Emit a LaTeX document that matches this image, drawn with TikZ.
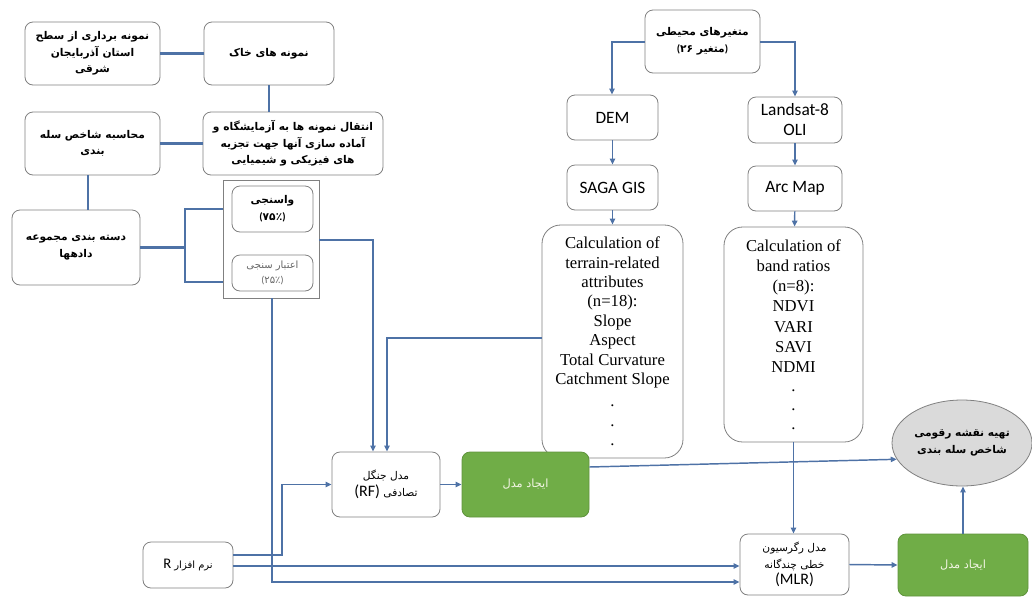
\documentclass[tikz,border=0pt]{standalone}
\usepackage{fontspec}
\setmainfont{Liberation Serif}
\newfontfamily\fa[Script=Arabic]{DejaVu Sans}
\newfontfamily\cbr{Carlito}
\TeXXeTstate=1
\usetikzlibrary{arrows.meta,shapes.geometric}
\newcommand\RL[1]{\beginR #1\endR}
\definecolor{lineblue}{HTML}{4E72A6}
\definecolor{boxgray}{HTML}{808080}
\definecolor{mgreen}{HTML}{70AD47}
\definecolor{ellgray}{HTML}{DADADA}
\definecolor{gtext}{HTML}{F4F6E6}
\tikzset{
  box/.style={draw=boxgray, line width=0.6pt, rounded corners=6pt, fill=white,
    align=center, inner sep=1pt, font=\fa\bfseries\fontsize{8}{12.5}\selectfont},
  plainbox/.style={box, font=\fa\fontsize{8}{12.5}\selectfont},
  engbox/.style={box, font=\cbr\fontsize{13}{15}\selectfont},
  serifbox/.style={box, rounded corners=14pt, font=\rmfamily\fontsize{12.5}{14.6}\selectfont},
  gbox/.style={draw=mgreen!85!black, line width=0.6pt, fill=mgreen, rounded corners=6pt,
    text=gtext, align=center, font=\fa\fontsize{8.5}{12}\selectfont},
  container/.style={draw=boxgray, line width=0.6pt, fill=white},
  conn/.style={draw=lineblue, line width=1.1pt},
  heavy/.style={draw=lineblue, line width=1.8pt},
  arr/.style={conn, -{Triangle[length=4.5pt,width=4pt]}},
}
\begin{document}
\begin{tikzpicture}[x=0.75pt,y=-0.75pt]
\useasboundingbox (0,0) rectangle (1032,597);

% left column
\node[box, minimum width=101.25pt, minimum height=47.25pt] (samp) at (92.5,53.5)
  {\RL{نمونه برداری از سطح}\\ \RL{استان آذربایجان}\\ \RL{شرقی}};
\node[box, minimum width=97.5pt, minimum height=47.25pt] (khak) at (269,53.5)
  {\RL{نمونه های خاک}};
\node[box, minimum width=135pt, minimum height=47.25pt] (lab) at (293,143.5)
  {\RL{انتقال نمونه ها به آزمایشگاه و}\\ \RL{آماده سازی آنها جهت تجزیه}\\ \RL{های فیزیکی و شیمیایی}};
\node[box, minimum width=101.25pt, minimum height=47.25pt] (calc) at (92.5,143.5)
  {\RL{محاسبه شاخص سله}\\ \RL{بندی}};
\node[box, minimum width=96pt, minimum height=56.25pt] (group) at (76,247.5)
  {\RL{دسته بندی مجموعه}\\ \RL{دادهها}};
\node[container, minimum width=72pt, minimum height=88.5pt] (cont) at (271,239) {};
\node[box, minimum width=60.75pt, minimum height=34.5pt] (cal) at (272.5,209)
  {\RL{واسنجی}\\ {\cbr(}\mbox{۷}\mbox{۵}\mbox{٪}{\cbr)}};
\node[box, minimum width=60.75pt, minimum height=27pt, text=black!60,
  font=\fa\fontsize{7.5}{11.5}\selectfont] (val) at (272.5,273)
  {\RL{اعتبار سنجی}\\ {\cbr(}\mbox{۲}\mbox{۵}\mbox{٪}{\cbr)}};

% top right
\node[box, minimum width=86.25pt, minimum height=47.25pt] (env) at (702.5,41.5)
  {\RL{متغیرهای محیطی}\\ {\cbr(}\mbox{۲}\mbox{۶}\ \RL{متغیر}{\cbr)}};
\node[engbox, minimum width=68.25pt, minimum height=33.75pt] (dem) at (612.5,117.5) {DEM};
\node[engbox, minimum width=70.5pt, minimum height=34.5pt] (land) at (795,120) {Landsat-8\\OLI};
\node[engbox, minimum width=68.25pt, minimum height=33.75pt] (saga) at (612.5,187.5) {SAGA GIS};
\node[engbox, minimum width=70.5pt, minimum height=33.75pt] (arc) at (795,188.5) {Arc Map};
\node[serifbox, minimum width=105.75pt, minimum height=174.75pt] (terr) at (612.5,341.5)
  {Calculation of\\terrain-related\\attributes\\(n=18):\\Slope\\Aspect\\Total Curvature\\Catchment Slope\\[2pt].\\.\\.};
\node[serifbox, minimum width=104.25pt, minimum height=161.25pt,
  font=\rmfamily\fontsize{12.5}{15.2}\selectfont] (band) at (793.5,334.5)
  {Calculation of\\band ratios\\(n=8):\\NDVI\\VARI\\SAVI\\NDMI\\[-1pt].\\[-1pt].\\[-1pt].};

% bottom
\node[plainbox, minimum width=81pt, minimum height=48.75pt] (rf) at (386,484.5)
  {\RL{مدل جنگل}\\ {\cbr\fontsize{12}{12}\selectfont (RF)} \RL{تصادفی}};
\node[gbox, minimum width=95.25pt, minimum height=48.75pt] (g1) at (525.5,484.5) {\RL{ایجاد مدل}};
\node[plainbox, minimum width=81.75pt, minimum height=45.75pt] (mlr) at (794.5,564.5)
  {\RL{مدل رگرسیون}\\ \RL{خطی چندگانه}\\ {\cbr\fontsize{12}{12}\selectfont (MLR)}};
\node[gbox, minimum width=97.5pt, minimum height=46.5pt] (g2) at (963,565) {\RL{ایجاد مدل}};
\node[ellipse, draw=boxgray, line width=0.6pt, fill=ellgray, minimum width=105pt,
  minimum height=64.5pt, inner sep=0pt, align=center,
  font=\fa\bfseries\fontsize{8}{12.5}\selectfont] (ell) at (962,443)
  {\RL{تهیه نقشه رقومی}\\ \RL{شاخص سله بندی}};
\node[box, minimum width=67.5pt, minimum height=34.5pt, font=\fa\fontsize{7.5}{11}\selectfont] (rsoft) at (188,565)
  {{\cbr\fontsize{11}{12}\selectfont R} \RL{نرم افزار}};

% helper coordinates
\coordinate (v1) at (88,0);
\coordinate (b1) at (185,209);
\coordinate (b2) at (185,282);
\coordinate (c1) at (373,240);
\coordinate (c2) at (387,338);
\coordinate (c3) at (272,582);
\coordinate (c4) at (282,555);
\coordinate (c5) at (0,566);
\coordinate (c6) at (589,467);
\coordinate (e1) at (612,42);
\coordinate (e2) at (795,42);

% heavy connectors
\draw[heavy] (samp.east) -- (khak.west);
\draw[heavy] (khak.south) -- (khak.south |- lab.north);
\draw[heavy] (calc.east) -- (lab.west);
\draw[heavy] (calc.south -| v1) -- (group.north -| v1);
\draw[heavy] (group.east) -- (group.east -| b1);
\draw[heavy] (cont.west |- b1) -- (b1) -- (b2) -- (cont.west |- b2);

% arrows
\draw[arr] (cont.east |- c1) -- (c1) -- (c1 |- rf.north);
\draw[arr] (terr.west |- c2) -- (c2) -- (c2 |- rf.north);
\draw[arr] (cont.south -| c3) -- (c3) -- (mlr.west |- c3);
\draw[arr] (rsoft.east |- c4) -- (c4) -- (c4 |- rf.west) -- (rf.west);
\draw[arr] (rsoft.east |- c5) -- (mlr.west |- c5);
\draw[arr] (rf) -- (g1);
\draw[arr] (g1.east |- c6) -- (ell.194);
\draw[arr] (g2.north) -- (g2.north |- ell.south);
\draw[arr] (mlr.east) -- (g2.west);
\draw[arr] (band.south) -- (band.south |- mlr.north);
\draw[arr] (env.west |- e1) -- (e1) -- (e1 |- dem.north);
\draw[arr] (env.east |- e2) -- (e2) -- (e2 |- land.north);
\draw[arr] (dem) -- (saga);
\draw[arr] (saga) -- (terr);
\draw[arr] (land) -- (arc);
\draw[arr] (arc) -- (band);
\end{tikzpicture}
\end{document}
